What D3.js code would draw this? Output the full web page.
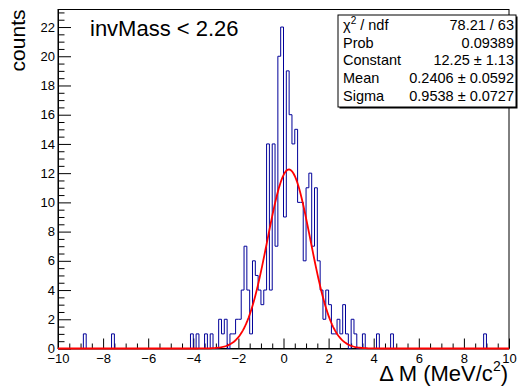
<!DOCTYPE html>
<html>
<head>
<meta charset="utf-8">
<script src="https://cdn.jsdelivr.net/npm/d3@7"></script>
<style>
  body { margin: 0; background: #fff; }
  svg { display: block; font-family: "Liberation Sans", Arial, Helvetica, sans-serif; }
</style>
</head>
<body>
<div id="chart"></div>
<script>
// Delta M histogram for invMass < 2.26 (160 bins of 0.125 over [-10, 10])
// only the non-empty bins are listed: lower bin edge + count
const binLowEdges = [
  -8.875, -7.625, -4.125, -3.875, -3.5, -3.25, -2.875, -2.75, -2.625, -2.375,
  -2.25, -2.125, -2.0, -1.875, -1.75, -1.625, -1.5, -1.375, -1.25, -1.125,
  -1.0, -0.875, -0.75, -0.625, -0.5, -0.375, -0.25, -0.125, 0.0, 0.125,
  0.25, 0.375, 0.5, 0.625, 0.75, 0.875, 1.0, 1.125, 1.25, 1.375,
  1.5, 1.625, 1.75, 1.875, 2.0, 2.125, 2.25, 2.375, 2.5, 2.625,
  2.75, 3.0, 3.125, 3.5, 4.125, 4.75, 8.875
];
const binCounts = [
  1, 1, 1, 1, 1, 1, 2, 1, 2, 1,
  1, 2, 2, 4, 7, 4, 1, 6, 5, 4,
  3, 4, 14, 4, 14, 7, 20, 22, 9, 19,
  16, 14, 15, 10, 10, 6, 11, 12, 7, 11,
  6, 4, 2, 4, 3, 1, 1, 2, 1, 3,
  1, 2, 1, 1, 1, 1, 1
];

// gaussian fit result (as printed in the stats box)
const fitConstant = 12.25;
const fitMean = 0.2406;
const fitSigma = 0.9538;

// stats box rows
const statLabels = ['χ2 / ndf', 'Prob', 'Constant', 'Mean', 'Sigma'];
const statValues = ['78.21 / 63', '0.09389', '12.25 ± 1.13', '0.2406 ± 0.0592', '0.9538 ± 0.0727'];

// axes
const xTickValues = [-10, -8, -6, -4, -2, 0, 2, 4, 6, 8, 10];
const yTickValues = [0, 2, 4, 6, 8, 10, 12, 14, 16, 18, 20, 22];

const nBins = 160;
const xMin = -10, xMax = 10, yMax = 23.2;

const width = 518, height = 387;
const margin = { top: 9.5, right: 9, bottom: 38.5, left: 58 };

const svg = d3.select('#chart')
  .append('svg')
  .attr('width', width)
  .attr('height', height)
  .attr('viewBox', `0 0 ${width} ${height}`);

const x = d3.scaleLinear()
  .domain([xMin, xMax])
  .range([margin.left, width - margin.right]);

const y = d3.scaleLinear()
  .domain([0, yMax])
  .range([height - margin.bottom, margin.top]);

// --- axes (ticks point inward like ROOT) ---
const minorX = d3.range(xMin, xMax + 0.001, 0.5).filter(v => v % 2 !== 0);
const minorY = d3.range(0, yMax, 0.5).filter(v => v % 2 !== 0);

svg.append('g')
  .attr('transform', `translate(0,${y(0)})`)
  .call(d3.axisBottom(x).tickValues(minorX).tickSize(-5).tickFormat(''))
  .call(g => g.select('.domain').remove());

svg.append('g')
  .attr('class', 'x-axis')
  .attr('transform', `translate(0,${y(0)})`)
  .call(d3.axisBottom(x).tickValues(xTickValues).tickSize(-10).tickSizeOuter(0).tickPadding(5))
  .call(g => g.selectAll('text').attr('font-size', 13).attr('font-family', null).attr('fill', '#000'));

svg.append('g')
  .attr('transform', `translate(${x(xMin)},0)`)
  .call(d3.axisLeft(y).tickValues(minorY).tickSize(-6.5).tickFormat(''))
  .call(g => g.select('.domain').remove());

svg.append('g')
  .attr('class', 'y-axis')
  .attr('transform', `translate(${x(xMin)},0)`)
  .call(d3.axisLeft(y).tickValues(yTickValues).tickSize(-13).tickSizeOuter(0).tickPadding(3))
  .call(g => g.selectAll('text').attr('font-size', 13).attr('font-family', null).attr('fill', '#000'));

// frame
svg.append('rect')
  .attr('x', x(xMin))
  .attr('y', y(yMax))
  .attr('width', x(xMax) - x(xMin))
  .attr('height', y(0) - y(yMax))
  .attr('fill', 'none')
  .attr('stroke', '#000');

// --- histogram outline ---
const counts = new Array(nBins).fill(0);
binLowEdges.forEach((edge, i) => {
  counts[Math.round((edge - xMin) / 0.125)] = binCounts[i];
});
const histPoints = counts.map((c, k) => [xMin + k * 0.125, c]);
histPoints.push([xMax, 0]);

svg.append('path')
  .datum(histPoints)
  .attr('fill', 'none')
  .attr('stroke', '#000099')
  .attr('stroke-width', 1)
  .attr('d', d3.line()
    .curve(d3.curveStepAfter)
    .x(d => x(d[0]))
    .y(d => y(d[1])));

// --- gaussian fit ---
const gaus = v => fitConstant * Math.exp(-0.5 * ((v - fitMean) / fitSigma) ** 2);
const fitPoints = d3.range(xMin, xMax + 0.001, 0.05).map(v => [v, gaus(v)]);

svg.append('path')
  .datum(fitPoints)
  .attr('fill', 'none')
  .attr('stroke', '#ff0000')
  .attr('stroke-width', 1.8)
  .attr('d', d3.line().x(d => x(d[0])).y(d => y(d[1])));

// --- titles ---
svg.append('text')
  .attr('x', x(xMax) - 1)
  .attr('y', 381)
  .attr('text-anchor', 'end')
  .attr('font-size', 22)
  .call(t => {
    t.append('tspan').text('Δ M (MeV/c');
    t.append('tspan').attr('font-size', 14).attr('dy', -10).text('2');
    t.append('tspan').attr('dy', 10).text(')');
  });

svg.append('text')
  .attr('transform', `translate(25,${y(yMax)}) rotate(-90)`)
  .attr('text-anchor', 'end')
  .attr('font-size', 21)
  .text('counts');

svg.append('text')
  .attr('x', 90)
  .attr('y', 36)
  .attr('font-size', 22)
  .text('invMass < 2.26');

// --- stats box ---
const box = { x: 338, y: 15, w: 178, h: 92 };
svg.append('rect')
  .attr('x', box.x + 1.5).attr('y', box.y + 1.5)
  .attr('width', box.w).attr('height', box.h)
  .attr('fill', '#000');
svg.append('rect')
  .attr('x', box.x).attr('y', box.y)
  .attr('width', box.w).attr('height', box.h)
  .attr('fill', '#fff')
  .attr('stroke', '#000');

const rowY = d3.scaleLinear().domain([0, 4]).range([30, 100.5]);

statLabels.forEach((label, i) => {
  const t = svg.append('text')
    .attr('x', box.x + 5)
    .attr('y', rowY(i))
    .attr('font-size', 14.5);
  if (i === 0) {
    t.append('tspan').text('χ');
    t.append('tspan').attr('font-size', 10).attr('dy', -6).text('2');
    t.append('tspan').attr('dy', 6).text(' / ndf');
  } else {
    t.text(label);
  }
  svg.append('text')
    .attr('x', box.x + box.w - 2)
    .attr('y', rowY(i))
    .attr('text-anchor', 'end')
    .attr('font-size', 14.5)
    .text(statValues[i]);
});
</script>
</body>
</html>
